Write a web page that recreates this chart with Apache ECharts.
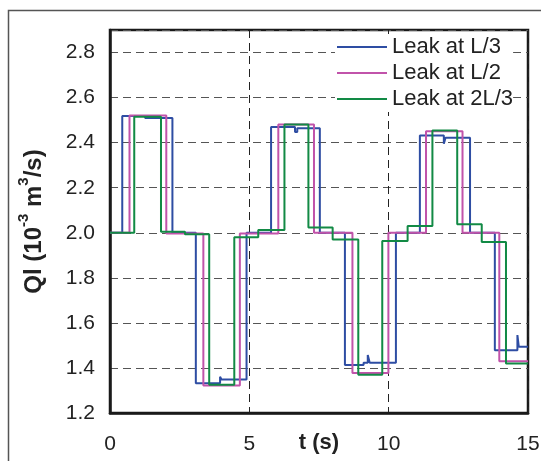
<!DOCTYPE html>
<html>
<head>
<meta charset="utf-8">
<script src="https://cdn.jsdelivr.net/npm/echarts@6/dist/echarts.min.js"></script>
<style>
html,body{margin:0;padding:0;background:#fff;}
#c{width:541px;height:461px;}
</style>
</head>
<body>
<div id="c"></div>
<script>
// ---- data ----
var seriesNames = ['Leak at L/3', 'Leak at L/2', 'Leak at 2L/3'];

var blueT = [0, 0.44, 1.26, 2.24, 3.08, 3.95, 4.0, 4.9, 5.78, 6.64, 6.72, 7.53, 8.43, 9.1, 9.25, 9.32, 10.26, 11.12, 11.98, 12.04, 12.92, 13.81, 14.62, 14.67, 15];
var blueV = [2.0, 2.518, 2.509, 2.0, 1.332, 1.361, 1.349, 2.0, 2.469, 2.447, 2.464, 2.0, 1.413, 1.423, 1.457, 1.423, 2.0, 2.432, 2.395, 2.422, 2.0, 1.479, 1.546, 1.494, 1.494];

var pinkT = [0, 0.7, 2.02, 3.35, 4.66, 6.04, 7.32, 8.7, 9.99, 11.34, 12.65, 13.97, 15];
var pinkV = [2.0, 2.52, 1.997, 1.322, 1.997, 2.481, 2.0, 1.378, 2.0, 2.451, 2.0, 1.43, 1.43];

var greenT = [0, 0.87, 1.83, 2.69, 3.56, 4.46, 5.32, 6.26, 7.12, 7.99, 8.91, 9.77, 10.68, 11.57, 12.46, 13.34, 14.21, 15];
var greenV = [2.0, 2.515, 2.005, 1.993, 1.325, 1.98, 2.012, 2.481, 2.023, 1.97, 1.37, 1.964, 2.03, 2.454, 2.038, 1.959, 1.42, 1.42];

var colors = ['#2e4da3', '#c153aa', '#128a45'];

function pairs(t, v) { return t.map(function (x, i) { return [x, v[i]]; }); }

var chart = echarts.init(document.getElementById('c'), null, {renderer: 'canvas'});
var font = 'Liberation Sans, Arial, sans-serif';

function mkSeries(name, t, v, color, z) {
  return {
    name: name, type: 'line', step: 'end', data: pairs(t, v),
    showSymbol: false, symbol: 'none', z: z,
    lineStyle: {color: color, width: 2}, itemStyle: {color: color},
    animation: false
  };
}

chart.setOption({
  animation: false,
  backgroundColor: '#fff',
  textStyle: {fontFamily: font},
  grid: {left: 110, right: 13, top: 30, bottom: 48, outerBoundsMode: 'none', containLabel: false,
    show: true, borderColor: '#1a1a1a', borderWidth: 2.5, backgroundColor: 'transparent'},
  graphic: [{
    type: 'rect', shape: {x: 8.5, y: 10.5, width: 560, height: 480},
    style: {fill: 'none', stroke: '#555', lineWidth: 1.5}, z: -10
  }],
  legend: {
    orient: 'vertical', left: 335, top: 34,
    itemWidth: 50, itemHeight: 2, itemGap: 2, icon: 'rect',
    backgroundColor: '#fff', padding: [1, 0, 1, 2],
    textStyle: {fontSize: 22, lineHeight: 24, color: '#222', fontFamily: font},
    data: seriesNames
  },
  xAxis: {
    type: 'value', min: 0, max: 15, interval: 5,
    name: 't (s)', nameLocation: 'middle', nameGap: 19, nameMoveOverlap: false,
    nameTextStyle: {fontSize: 22, fontWeight: 'bold', color: '#222', fontFamily: font},
    axisLine: {show: true, onZero: false, lineStyle: {color: '#1a1a1a', width: 2.5}},
    axisTick: {show: false},
    axisLabel: {fontSize: 21, color: '#222', margin: 21, fontFamily: font},
    splitLine: {show: true, lineStyle: {color: '#222', type: [8, 5], width: 1}}
  },
  yAxis: {
    type: 'value', min: 1.2, max: 2.9, interval: 0.2,
    name: '{m|Ql (10}{s|-3}{m| m}{s|3}{m|/s)}',
    nameLocation: 'middle', nameGap: 64, nameRotate: 90, nameMoveOverlap: false,
    nameTextStyle: {
      fontSize: 24, fontWeight: 'bold', color: '#222', fontFamily: font,
      rich: {
        m: {fontSize: 24, fontWeight: 'bold', color: '#222', fontFamily: font, lineHeight: 30, verticalAlign: 'bottom'},
        s: {fontSize: 15, fontWeight: 'bold', color: '#222', fontFamily: font, lineHeight: 15, verticalAlign: 'top'}
      }
    },
    axisLine: {show: true, onZero: false, lineStyle: {color: '#1a1a1a', width: 2.5}},
    axisTick: {show: false},
    axisLabel: {fontSize: 21, color: '#222', margin: 15, showMaxLabel: false, fontFamily: font,
      formatter: function (v) { return v.toFixed(1); }},
    splitLine: {show: true, lineStyle: {color: '#555', type: [8, 5], width: 1}}
  },
  series: [
    mkSeries(seriesNames[0], blueT, blueV, colors[0], 3),
    mkSeries(seriesNames[1], pinkT, pinkV, colors[1], 4),
    mkSeries(seriesNames[2], greenT, greenV, colors[2], 5)
  ]
});
</script>
</body>
</html>
